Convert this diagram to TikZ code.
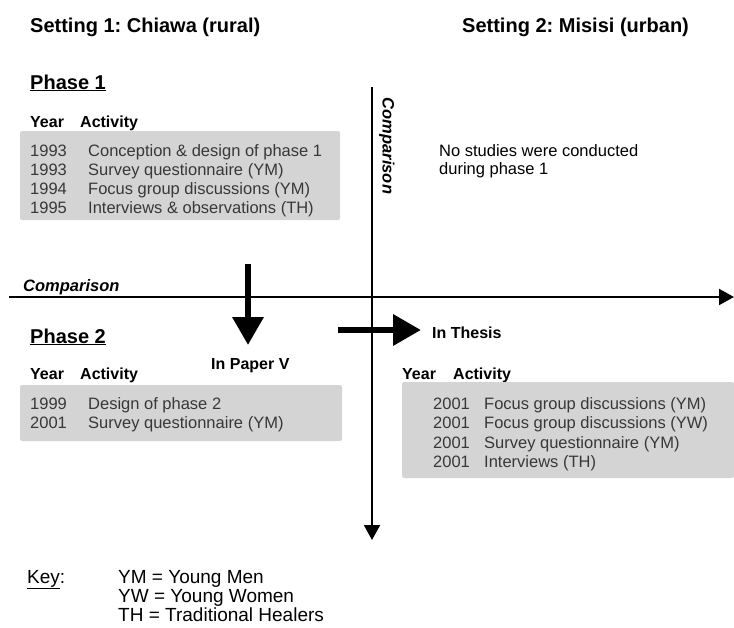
\documentclass[tikz,border=0pt]{standalone}
\usepackage{fontspec}
\setmainfont{Liberation Sans}
\usetikzlibrary{arrows.meta}
\frenchspacing

\begin{document}
\begin{tikzpicture}[x=1pt,y=-1pt,
  >={Triangle[length=15pt,width=16pt]},
  title/.style={anchor=base west,inner sep=0pt,font=\bfseries\fontsize{20}{22}\selectfont},
  colhead/.style={anchor=base west,inner sep=0pt,font=\bfseries\fontsize{16}{19}\selectfont},
  rowtxt/.style={anchor=base west,inner sep=0pt,text=black!78,font=\fontsize{16.5}{19}\selectfont},
  plain/.style={anchor=base west,inner sep=0pt,font=\fontsize{16.5}{19}\selectfont},
  keytxt/.style={anchor=base west,inner sep=0pt,font=\fontsize{19}{22}\selectfont},
  cmp/.style={inner sep=0pt,font=\bfseries\itshape\fontsize{16.5}{19}\selectfont},
  graybox/.style={fill=black!17,draw=none,rounded corners=2pt},
  axis/.style={line width=2pt,->},
  fat/.style={line width=6.5pt,-{Triangle[length=28pt,width=30pt]}}]
\useasboundingbox (0,0) rectangle (734,627);

% settings
\node[title] (set1) at (30,32) {Setting 1: Chiawa (rural)};
\node[title] (set2) at (462,32) {Setting 2: Misisi (urban)};

% phase 1
\node[title] (ph1) at (30,89) {\underline{Phase 1}};
\node[colhead] (yr1) at (30,127) {Year};
\node[colhead] (ac1) at (80,127) {Activity};
\fill[graybox] (20,131) rectangle (340,220);
\foreach \yr/\act [count=\i from 0] in {1993/Conception \& design of phase 1,
    1993/Survey questionnaire (YM),1994/Focus group discussions (YM),
    1995/Interviews \& observations (TH)}{
  \node[rowtxt] (pa\i) at (30,{156+19.3*\i}) {\yr};
  \node[rowtxt] (pb\i) at (88,{156+19.3*\i}) {\act};
}
\node[plain] (none1) at (439,156) {No studies were conducted};
\node[plain] (none2) at (439,174) {during phase 1};

% axes
\coordinate (vtop) at (372,87);
\coordinate (vbot) at (372,540);
\coordinate (hleft) at (9,297);
\coordinate (hright) at (734,297);
\draw[axis] (vtop) -- (vbot);
\draw[axis] (hleft) -- (hright);
\node[cmp,rotate=-90] (cmpv) at (387,146) {Comparison};
\node[cmp,anchor=base west] (cmph) at (23,291) {Comparison};

% phase 2
\node[title] (ph2) at (30,343) {\underline{Phase 2}};
\node[colhead] (yr2) at (30,379) {Year};
\node[colhead] (ac2) at (80,379) {Activity};
\fill[graybox] (20,385) rectangle (342,441);
\foreach \yr/\act [count=\i from 0] in {1999/Design of phase 2,2001/Survey questionnaire (YM)}{
  \node[rowtxt] (qa\i) at (30,{409+19.5*\i}) {\yr};
  \node[rowtxt] (qb\i) at (88,{409+19.5*\i}) {\act};
}

% published in
\coordinate (pvtop) at (248,264);
\coordinate (pvtip) at (248,345);
\draw[fat] (pvtop) -- (pvtip);
\node[colhead] (paper) at (211,369) {In Paper V};
\coordinate (thl) at (338,330);
\coordinate (thr) at (421,330);
\draw[fat] (thl) -- (thr);
\node[colhead] (thesis) at (432,338) {In Thesis};

% misisi
\node[colhead] (yr3) at (402,379) {Year};
\node[colhead] (ac3) at (453,379) {Activity};
\fill[graybox] (402,382) rectangle (734,478);
\foreach \act [count=\i from 0] in {Focus group discussions (YM),Focus group discussions (YW),
    Survey questionnaire (YM),Interviews (TH)}{
  \node[rowtxt] (ra\i) at (433,{409+19.5*\i}) {2001};
  \node[rowtxt] (rb\i) at (484,{409+19.5*\i}) {\act};
}

% key
\node[keytxt] (key) at (27,583) {\underline{Key}:};
\node[keytxt] (k1) at (118,583) {YM = Young Men};
\node[keytxt] (k2) at (118,602) {YW = Young Women};
\node[keytxt] (k3) at (118,621) {TH = Traditional Healers};
\end{tikzpicture}
\end{document}
